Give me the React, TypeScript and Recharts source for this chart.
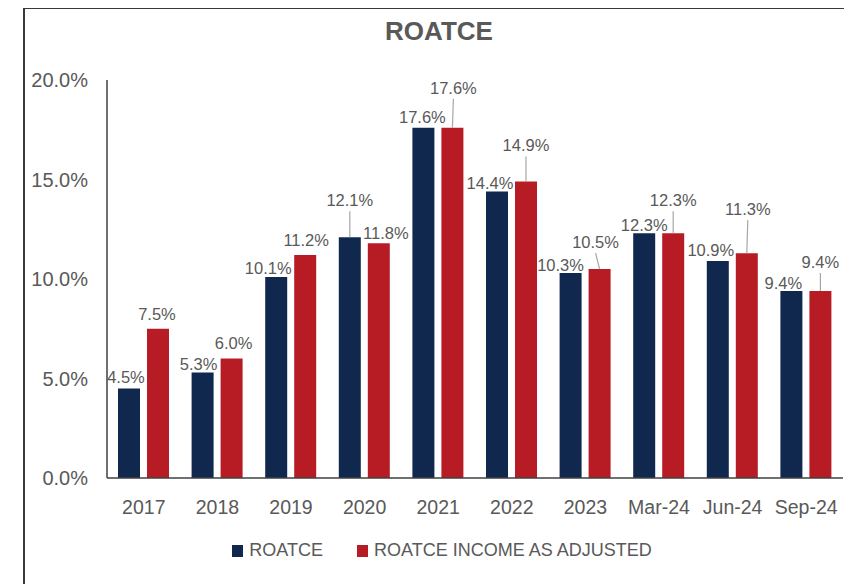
import React from 'react';
import { BarChart, Bar, XAxis, YAxis, LabelList, Legend } from 'recharts';

const categories = ['2017', '2018', '2019', '2020', '2021', '2022', '2023', 'Mar-24', 'Jun-24', 'Sep-24'];
const roatce = [4.5, 5.3, 10.1, 12.1, 17.6, 14.4, 10.3, 12.3, 10.9, 9.4];
const roatceAdjusted = [7.5, 6.0, 11.2, 11.8, 17.6, 14.9, 10.5, 12.3, 11.3, 9.4];
const yTicks = [0, 5, 10, 15, 20];
const seriesNames = ['ROATCE', 'ROATCE INCOME AS ADJUSTED'];

// label placement (style, not data)
const navyDx = [-3, -4, -8, 0, -1, -7, -10, 0, -7, -8];
const navyRise = [5, 3, 3, 31, 5, 2, 2, 2, 5, 2];
const navyLeader = [false, false, false, true, false, false, false, false, false, false];
const redDx = [-1, 2, 1, 7, 1, 0, -4, 0, 1, 0];
const redRise = [9, 10, 9, 4, 34, 30, 21, 27, 38, 23];
const redLeader = [false, false, false, false, true, true, true, true, true, true];

const NAVY = '#10284e';
const RED = '#b71c24';
const GRAY = '#595959';
const FONT = '"Liberation Sans", Arial, sans-serif';

const data = categories.map((c, i) => ({ name: c, roatce: roatce[i], adjusted: roatceAdjusted[i] }));

const makeLabel = (dxs: number[], rises: number[], leaders: boolean[]) => (props: any) => {
  const { x, y, width, value, index } = props;
  const barCx = Number(x) + Number(width) / 2;
  const top = Number(y);
  const cx = barCx + dxs[index];
  const baseline = top - rises[index];
  return (
    <g>
      {leaders[index] && (
        <line x1={cx} y1={baseline + 5} x2={barCx} y2={top} stroke="#a6a6a6" strokeWidth={1.2} />
      )}
      <text x={cx} y={baseline} textAnchor="middle" fill={GRAY} fontSize={16.5} fontFamily={FONT}>
        {Number(value).toFixed(1) + '%'}
      </text>
    </g>
  );
};

const LegendContent = () => (
  <div style={{ display: 'flex', justifyContent: 'center', alignItems: 'center', paddingLeft: 32, fontFamily: FONT, fontSize: 18, color: GRAY }}>
    <span style={{ display: 'inline-block', width: 11, height: 12, background: NAVY, marginRight: 6 }} />
    <span style={{ marginRight: 34 }}>{seriesNames[0]}</span>
    <span style={{ display: 'inline-block', width: 11, height: 12, background: RED, marginRight: 6 }} />
    <span>{seriesNames[1]}</span>
  </div>
);

export default function App() {
  return (
    <div style={{ position: 'relative', width: 852, height: 584, marginLeft: -8, marginTop: -8, background: '#fff', overflow: 'hidden' }}>
      <div style={{ position: 'absolute', left: 23, top: 7, width: 820, height: 600, border: '2px solid #3a3a3a' }} />
      <div style={{ position: 'absolute', left: 0, top: 16, width: 878, textAlign: 'center', fontFamily: FONT, fontWeight: 'bold', fontSize: 26, color: GRAY }}>
        ROATCE
      </div>
      <div style={{ position: 'absolute', left: 0, top: 0 }}>
        <BarChart width={852} height={584} data={data} margin={{ top: 80, right: 9, left: 0, bottom: 76 }} barSize={22} barGap={7}>
          <XAxis dataKey="name" height={30} tickLine={false} axisLine={{ stroke: '#404040', strokeWidth: 1.5 }} tickMargin={16}
            tick={{ fill: GRAY, fontSize: 19.5, fontFamily: FONT }} interval={0} />
          <YAxis width={107} domain={[0, 20]} ticks={yTicks} tickLine={false} axisLine={{ stroke: '#404040', strokeWidth: 1.5 }} tickMargin={13}
            tickFormatter={(v: number) => v.toFixed(1) + '%'} tick={{ fill: GRAY, fontSize: 20, fontFamily: FONT }} />
          <Legend layout="horizontal" verticalAlign="middle" align="center" content={<LegendContent />}
            wrapperStyle={{ top: 540, left: 0, width: 852 }} />
          <Bar dataKey="roatce" name={seriesNames[0]} fill={NAVY} isAnimationActive={false}>
            <LabelList dataKey="roatce" content={makeLabel(navyDx, navyRise, navyLeader)} />
          </Bar>
          <Bar dataKey="adjusted" name={seriesNames[1]} fill={RED} isAnimationActive={false}>
            <LabelList dataKey="adjusted" content={makeLabel(redDx, redRise, redLeader)} />
          </Bar>
        </BarChart>
      </div>
    </div>
  );
}
